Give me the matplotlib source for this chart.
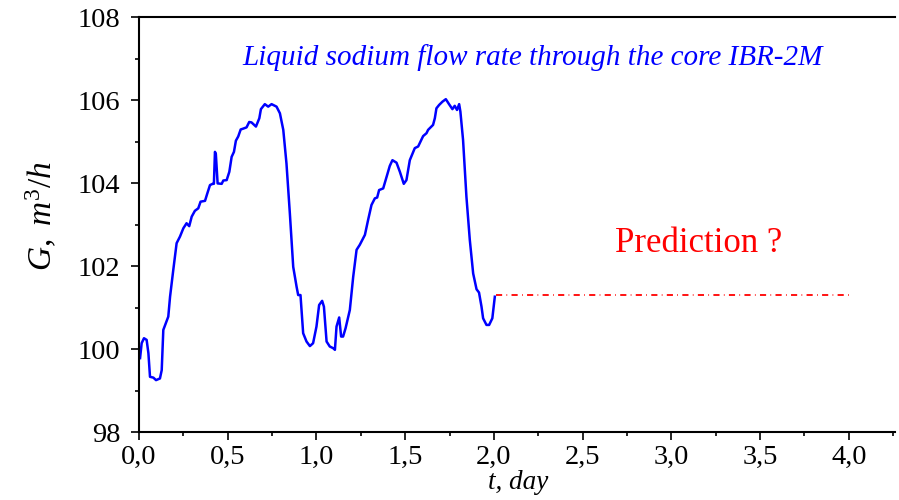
import matplotlib
matplotlib.use("Agg")
import matplotlib.pyplot as plt
from matplotlib.ticker import MultipleLocator, FuncFormatter

# ---- data ----
t_day = [0.006, 0.015, 0.028, 0.043, 0.053, 0.062, 0.081, 0.096, 0.118, 0.128,
         0.137, 0.165, 0.175, 0.193, 0.212, 0.231, 0.25, 0.268, 0.283, 0.297,
         0.315, 0.334, 0.347, 0.372, 0.385, 0.4, 0.415, 0.422, 0.428, 0.433,
         0.443, 0.466, 0.475, 0.494, 0.509, 0.522, 0.535, 0.546, 0.559, 0.573,
         0.587, 0.606, 0.621, 0.634, 0.659, 0.678, 0.687, 0.709, 0.728, 0.747,
         0.775, 0.794, 0.813, 0.831, 0.85, 0.869, 0.888, 0.897, 0.91, 0.925,
         0.944, 0.963, 0.981, 1.0, 1.015, 1.032, 1.042, 1.057, 1.075, 1.094,
         1.104, 1.113, 1.128, 1.139, 1.15, 1.164, 1.188, 1.207, 1.226, 1.244,
         1.273, 1.291, 1.31, 1.329, 1.342, 1.353, 1.376, 1.398, 1.413, 1.428,
         1.451, 1.47, 1.492, 1.507, 1.526, 1.554, 1.573, 1.601, 1.62, 1.629,
         1.657, 1.667, 1.676, 1.691, 1.71, 1.729, 1.747, 1.766, 1.779, 1.792,
         1.804, 1.811, 1.826, 1.845, 1.864, 1.883, 1.902, 1.916, 1.93, 1.939,
         1.958, 1.973, 1.991, 2.005]

flow_G = [99.78, 100.14, 100.26, 100.22, 99.9, 99.33, 99.31, 99.25, 99.29, 99.49,
          100.46, 100.78, 101.26, 101.9, 102.55, 102.71, 102.91, 103.03, 102.96, 103.19,
          103.33, 103.39, 103.55, 103.57, 103.75, 103.95, 103.98, 103.98, 104.75, 104.7,
          103.99, 103.98, 104.06, 104.07, 104.27, 104.63, 104.75, 105.02, 105.12, 105.29,
          105.31, 105.34, 105.47, 105.46, 105.36, 105.56, 105.78, 105.9, 105.84, 105.9,
          105.84, 105.68, 105.28, 104.47, 103.27, 101.98, 101.5, 101.3, 101.3, 100.38,
          100.18, 100.07, 100.14, 100.54, 101.06, 101.16, 101.02, 100.18, 100.06, 100.02,
          99.98, 100.54, 100.76, 100.3, 100.3, 100.5, 100.94, 101.74, 102.39, 102.51,
          102.75, 103.11, 103.47, 103.63, 103.65, 103.83, 103.87, 104.19, 104.41, 104.55,
          104.49, 104.27, 103.98, 104.07, 104.55, 104.84, 104.88, 105.13, 105.2, 105.28,
          105.4, 105.56, 105.8, 105.88, 105.96, 106.02, 105.9, 105.78, 105.86, 105.76,
          105.9, 105.72, 105.04, 103.67, 102.63, 101.82, 101.44, 101.36, 101.02, 100.74,
          100.58, 100.58, 100.74, 101.26]

pred_t = [2.01, 4.02]
pred_G = [101.3, 101.3]

title_text = "Liquid sodium flow rate through the core IBR-2M"
pred_text = "Prediction ?"
x_label = "t, day"
y_label = r"$G,\ m^3/h$"

# ---- style ----
plt.rcParams['font.family'] = ['Liberation Serif', 'DejaVu Serif']
plt.rcParams['mathtext.fontset'] = 'custom'
plt.rcParams['mathtext.it'] = 'Liberation Serif:italic'
plt.rcParams['mathtext.rm'] = 'Liberation Serif'

fig = plt.figure(figsize=(8.99, 5.0), dpi=100)
ax = fig.add_axes([139/899, 1-432/500, (895-139)/899, (432-17)/500])

ax.plot(t_day, flow_G, color='#0000ff', lw=1.8, solid_joinstyle='round')
ax.plot(pred_t, pred_G, color='#ff0000', lw=1.3, linestyle=(0, (3.4, 2.4, 0.4, 2.4)))

ax.set_xlim(0, 4.26)
ax.set_ylim(98, 108)

ax.xaxis.set_major_locator(MultipleLocator(0.5))
ax.xaxis.set_minor_locator(MultipleLocator(0.25))
ax.yaxis.set_major_locator(MultipleLocator(2))
ax.yaxis.set_minor_locator(MultipleLocator(1))
ax.xaxis.set_major_formatter(FuncFormatter(lambda v, p: f"{v:.1f}".replace('.', ',')))
ax.yaxis.set_major_formatter(FuncFormatter(lambda v, p: f"{v:.0f}"))

for s in ['left', 'bottom', 'top']:
    ax.spines[s].set_linewidth(1.5)
ax.spines['right'].set_visible(False)

ax.tick_params(which='major', direction='out', length=5.5, width=1.2,
               labelsize=20.5, top=False, right=False)
ax.tick_params(which='minor', direction='out', length=3, width=1.2,
               top=False, right=False)
ax.tick_params(axis='x', which='major', pad=4)
ax.tick_params(axis='y', which='major', pad=8)

ax.set_xlabel(x_label, fontsize=19.5, style='italic')
ax.xaxis.set_label_coords(0.501, -0.092)
ax.set_ylabel(y_label, fontsize=24)
ax.yaxis.set_label_coords(-0.106, 0.52)

fig.text(532.5/899, 1-58/500, title_text, color='#0000ff', fontsize=21,
         style='italic', ha='center', va='center')
fig.text(698.5/899, 1-244/500, pred_text, color='#ff0000', fontsize=25,
         ha='center', va='center')

fig.savefig('out.png', dpi=100)
